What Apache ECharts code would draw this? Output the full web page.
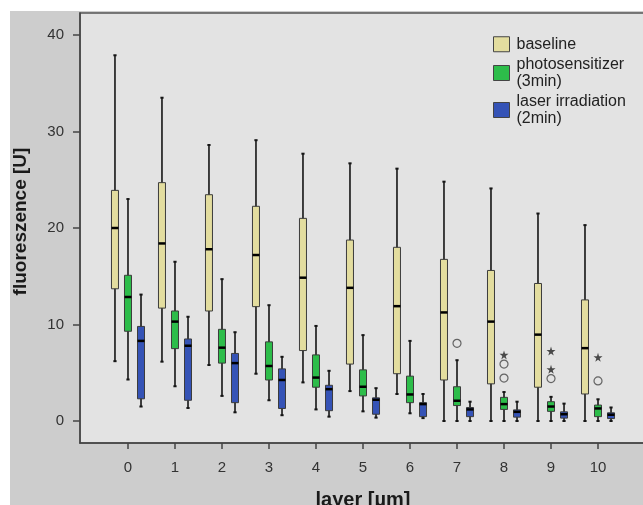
<!DOCTYPE html>
<html><head><meta charset="utf-8">
<script src="https://cdn.jsdelivr.net/npm/echarts@6/dist/echarts.min.js"></script>
<style>html,body{margin:0;padding:0;background:#fff}#c{width:643px;height:505px}</style>
</head><body><div id="c"></div>
<script>
const layers = [0,1,2,3,4,5,6,7,8,9,10];
const yTicks = [0,10,20,30,40];
const seriesNames = ['baseline', 'photosensitizer\n(3min)', 'laser irradiation\n(2min)'];
// each row: [min, q1, median, q3, max]
const baseline = [
 [6.2,13.7,20.0,23.9,37.9],
 [6.15,11.7,18.4,24.7,33.5],
 [5.8,11.4,17.8,23.45,28.6],
 [4.9,11.85,17.2,22.25,29.1],
 [4.0,7.3,14.85,21.0,27.7],
 [3.1,5.9,13.8,18.75,26.7],
 [2.8,4.9,11.9,18.0,26.15],
 [0,4.25,11.25,16.75,24.8],
 [0,3.85,10.3,15.6,24.1],
 [0,3.5,8.95,14.25,21.5],
 [0,2.8,7.55,12.55,20.3]
];
const photosensitizer = [
 [4.3,9.3,12.85,15.1,23.0],
 [3.6,7.5,10.3,11.4,16.5],
 [2.6,6.0,7.6,9.5,14.7],
 [2.15,4.25,5.7,8.2,12.0],
 [1.2,3.5,4.5,6.85,9.85],
 [1.0,2.6,3.55,5.3,8.9],
 [0.8,1.9,2.75,4.65,8.3],
 [0,1.6,2.1,3.55,6.3],
 [0,1.2,1.75,2.45,3.0],
 [0,1.0,1.5,2.0,2.5],
 [0,0.45,1.3,1.65,2.25]
];
const laser = [
 [1.5,2.3,8.3,9.8,13.1],
 [1.35,2.15,7.8,8.5,10.8],
 [0.9,1.9,6.0,7.0,9.2],
 [0.6,1.3,4.25,5.4,6.65],
 [0.45,1.07,3.3,3.7,5.2],
 [0.35,0.7,2.2,2.4,3.4],
 [0.3,0.45,1.75,1.9,2.8],
 [0,0.45,1.2,1.4,2.0],
 [0,0.4,0.95,1.15,2.0],
 [0,0.3,0.7,0.95,1.8],
 [0,0.25,0.65,0.85,1.4]
];
const outlierCircles = [[7,8.05],[8,5.9],[8,4.45],[9,4.4],[10,4.15]];
const outlierStars = [[8,6.85],[9,7.25],[9,5.35],[10,6.6]];

const FONT = "'Liberation Sans', Arial, sans-serif";
const colors = ['#e3dd9f', '#2dbd4a', '#3553b6'];
const offsets = [-0.277, 0, 0.277];
const STAR = 'path://M50,0 L61,35 L98,35 L68,57 L79,91 L50,70 L21,91 L32,57 L2,35 L39,35 Z';

function boxRenderer(offsetFrac, color) {
  return function (params, api) {
    const x = api.value(0);
    const unit = api.size([1, 0])[0];
    const cx = api.coord([x, 0])[0] + offsetFrac * unit;
    const w = 7;
    const yMin = api.coord([x, api.value(1)])[1];
    const yQ1 = api.coord([x, api.value(2)])[1];
    const yMed = api.coord([x, api.value(3)])[1];
    const yQ3 = api.coord([x, api.value(4)])[1];
    const yMax = api.coord([x, api.value(5)])[1];
    const ink = '#151515';
    return {
      type: 'group',
      children: [
        {type: 'line', shape: {x1: cx, y1: yMax, x2: cx, y2: yMin}, style: {stroke: ink, lineWidth: 1.6}},
        {type: 'line', shape: {x1: cx - 1.6, y1: yMax, x2: cx + 1.6, y2: yMax}, style: {stroke: ink, lineWidth: 2}},
        {type: 'line', shape: {x1: cx - 1.6, y1: yMin, x2: cx + 1.6, y2: yMin}, style: {stroke: ink, lineWidth: 2}},
        {type: 'rect', shape: {x: cx - w / 2, y: yQ3, width: w, height: yQ1 - yQ3}, style: {fill: color, stroke: '#3c3c3c', lineWidth: 1}},
        {type: 'line', shape: {x1: cx - w / 2, y1: yMed, x2: cx + w / 2, y2: yMed}, style: {stroke: '#000', lineWidth: 2.5}}
      ]
    };
  };
}

const groups = [baseline, photosensitizer, laser];
const boxSeries = groups.map((g, k) => ({
  name: seriesNames[k],
  type: 'custom',
  renderItem: boxRenderer(offsets[k], colors[k]),
  itemStyle: {color: colors[k]},
  encode: {x: 0, y: [1, 2, 3, 4, 5]},
  data: layers.map((l, i) => [l].concat(g[i])),
  z: 3
}));

const chart = echarts.init(document.getElementById('c'), null, {renderer: 'canvas'});
chart.setOption({
  backgroundColor: '#cdcdcd',
  animation: false,
  textStyle: {fontFamily: FONT},
  graphic: [
    {type: 'rect', shape: {x: 0, y: 0, width: 10, height: 505}, style: {fill: '#fff'}, z: 100},
    {type: 'rect', shape: {x: 0, y: 0, width: 643, height: 11}, style: {fill: '#fff'}, z: 100}
  ],
  grid: {
    left: 80, top: 13, right: -3, bottom: 62,
    outerBoundsMode: 'none',
    containLabel: false,
    show: true, backgroundColor: '#e3e3e3', borderColor: '#555', borderWidth: 1.5
  },
  legend: {
    data: seriesNames,
    orient: 'vertical',
    left: 493, top: 36,
    padding: 0,
    itemGap: 4,
    itemWidth: 16, itemHeight: 15,
    icon: 'rect',
    itemStyle: {borderColor: '#444', borderWidth: 1},
    textStyle: {fontFamily: FONT, fontSize: 16, color: '#222', lineHeight: 16.5, padding: [0, 0, 0, 2]}
  },
  xAxis: {
    type: 'value',
    min: -1.021, max: 11.021,
    splitLine: {show: false},
    axisLine: {show: true, onZero: false, lineStyle: {color: '#444', width: 1.5}},
    axisTick: {show: true, customValues: layers, length: 6, lineStyle: {color: '#444', width: 1.5}},
    axisLabel: {customValues: layers, fontFamily: FONT, fontSize: 15, color: '#333', margin: 17},
    name: 'layer [µm]',
    nameLocation: 'middle',
    nameGap: 47,
    nameTextStyle: {fontFamily: FONT, fontSize: 20, fontWeight: 'bold', color: '#1a1a1a'}
  },
  yAxis: {
    type: 'value',
    min: -2.28, max: 42.28,
    splitLine: {show: false},
    axisLine: {show: true, onZero: false, lineStyle: {color: '#444', width: 1.5}},
    axisTick: {show: true, customValues: yTicks, length: 7, lineStyle: {color: '#444', width: 1.5}},
    axisLabel: {customValues: yTicks, fontFamily: FONT, fontSize: 15, color: '#333', margin: 16},
    name: 'fluoreszence [U]',
    nameLocation: 'middle',
    nameGap: 50,
    nameTextStyle: {fontFamily: FONT, fontSize: 19, fontWeight: 'bold', color: '#1a1a1a', padding: [0, 0, 0, 13]}
  },
  series: boxSeries.concat([
    {
      name: 'outliers', type: 'scatter', data: outlierCircles,
      symbol: 'circle', symbolSize: 8,
      itemStyle: {color: 'rgba(0,0,0,0)', borderColor: '#444', borderWidth: 1.2},
      z: 4, silent: true
    },
    {
      name: 'extremes', type: 'scatter', data: outlierStars,
      symbol: STAR, symbolSize: 9,
      itemStyle: {color: '#222'},
      z: 4, silent: true
    }
  ])
});
</script></body></html>
